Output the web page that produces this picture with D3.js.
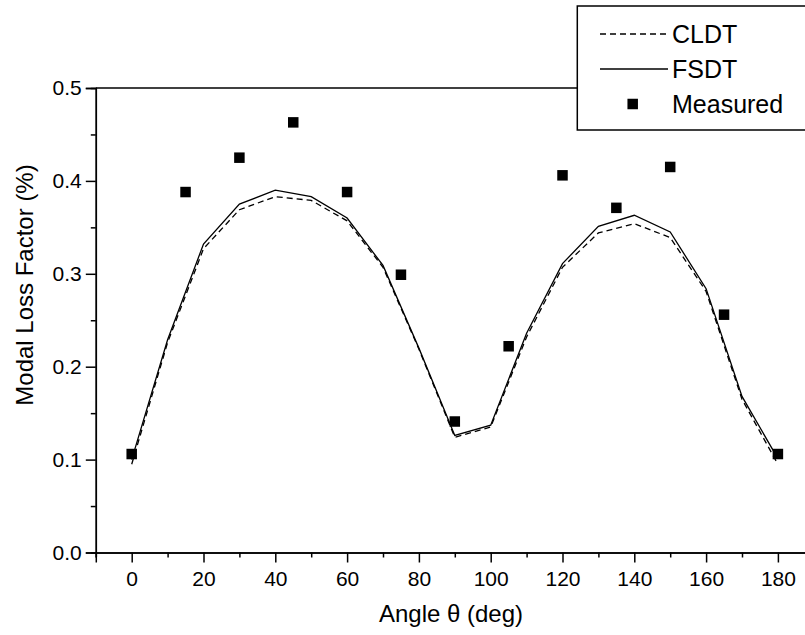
<!DOCTYPE html>
<html>
<head>
<meta charset="utf-8">
<script src="https://cdn.jsdelivr.net/npm/d3@7"></script>
<style>
    body { margin: 0; background: white; }
    text { font-family: Arial, "Liberation Sans", sans-serif; fill: black; }
</style>
</head>
<body>
<div id="canvas"></div>
<script>
"use strict"

/* data */
let angles = [0, 10, 20, 30, 40, 50, 60, 70, 80, 90, 100, 110, 120, 130, 140, 150, 160, 170, 180];
let cldt = [0.095, 0.226, 0.327, 0.369, 0.383, 0.379, 0.357, 0.307, 0.219, 0.124, 0.135, 0.232, 0.307, 0.344, 0.354, 0.339, 0.281, 0.165, 0.095];
let fsdt = [0.100, 0.229, 0.332, 0.375, 0.390, 0.383, 0.360, 0.309, 0.220, 0.126, 0.137, 0.236, 0.311, 0.351, 0.363, 0.345, 0.284, 0.168, 0.101];
let measuredAngles = [0, 15, 30, 45, 60, 75, 90, 105, 120, 135, 150, 165, 180];
let measured = [0.106, 0.388, 0.425, 0.463, 0.388, 0.299, 0.141, 0.222, 0.406, 0.371, 0.415, 0.256, 0.106];
let xTicks = [0, 20, 40, 60, 80, 100, 120, 140, 160, 180];
let yTicks = [0.0, 0.1, 0.2, 0.3, 0.4, 0.5];
let legendNames = ["CLDT", "FSDT", "Measured"];

/* drawing canvas */
let drawing = d3.select("#canvas")
    .append("svg")
    .attr("width", 805)
    .attr("height", 635);

/* scales - the x range runs past the right edge like the original */
let x = d3.scaleLinear().domain([-10, 190]).range([95.8, 813.8]);
let y = d3.scaleLinear().domain([0, 0.5]).range([552.5, 88]);

/* frame: top border line */
let topBorder = drawing.append("line")
    .attr("x1", x(-10))
    .attr("y1", y(0.5))
    .attr("x2", x(190))
    .attr("y2", y(0.5))
    .attr("stroke", "black")
    .attr("stroke-width", 1.5);

/* x axis */
let xAxis = drawing.append("g")
    .attr("transform", "translate(0," + y(0) + ")")
    .call(d3.axisBottom(x).tickValues(xTicks).tickSize(10).tickPadding(9).tickFormat(d3.format("d")));

let xMinor = drawing.append("g")
    .attr("transform", "translate(0," + y(0) + ")")
    .call(d3.axisBottom(x).tickValues(d3.range(-10, 191, 20)).tickSize(5).tickFormat(""));

/* y axis */
let yAxis = drawing.append("g")
    .attr("transform", "translate(" + x(-10) + ",0)")
    .call(d3.axisLeft(y).tickValues(yTicks).tickSize(10).tickPadding(4).tickFormat(d3.format(".1f")));

let yMinor = drawing.append("g")
    .attr("transform", "translate(" + x(-10) + ",0)")
    .call(d3.axisLeft(y).tickValues(d3.range(0.05, 0.5, 0.1)).tickSize(5).tickFormat(""));

drawing.selectAll(".domain").attr("stroke", "black").attr("stroke-width", 1.5);
drawing.selectAll(".tick line").attr("stroke", "black").attr("stroke-width", 1.5);
drawing.selectAll(".tick text").attr("font-size", 21).attr("font-family", "Arial, 'Liberation Sans', sans-serif");

/* axis titles */
let xTitle = drawing.append("text")
    .attr("x", 451)
    .attr("y", 622)
    .attr("text-anchor", "middle")
    .attr("font-size", 24)
    .text("Angle θ (deg)");

let yTitle = drawing.append("text")
    .attr("transform", "translate(33,285) rotate(-90)")
    .attr("text-anchor", "middle")
    .attr("font-size", 24)
    .text("Modal Loss Factor (%)");

/* curves */
let line = function(vals) {
    return d3.line()
        .x((d, i) => x(angles[i]))
        .y(d => y(d))(vals);
};

let cldtLine = drawing.append("path")
    .attr("d", line(cldt))
    .attr("fill", "none")
    .attr("stroke", "black")
    .attr("stroke-width", 1.3)
    .attr("stroke-dasharray", "6,4");

let fsdtLine = drawing.append("path")
    .attr("d", line(fsdt))
    .attr("fill", "none")
    .attr("stroke", "black")
    .attr("stroke-width", 1.3);

/* measured points */
let sq = 10.5;
let points = drawing.selectAll(".pt")
    .data(measured)
    .enter()
    .append("rect")
    .attr("class", "pt")
    .attr("x", (d, i) => x(measuredAngles[i]) - sq / 2)
    .attr("y", d => y(d) - sq / 2)
    .attr("width", sq)
    .attr("height", sq)
    .attr("fill", "black");

/* legend box */
let legendBox = drawing.append("rect")
    .attr("x", 577.3)
    .attr("y", 6)
    .attr("width", 260)
    .attr("height", 124)
    .attr("fill", "white")
    .attr("stroke", "black")
    .attr("stroke-width", 1.5);

let legendY = [34, 69, 104];

let legendDash = drawing.append("line")
    .attr("x1", 600).attr("y1", legendY[0])
    .attr("x2", 668).attr("y2", legendY[0])
    .attr("stroke", "black")
    .attr("stroke-width", 1.3)
    .attr("stroke-dasharray", "6,4");

let legendSolid = drawing.append("line")
    .attr("x1", 600).attr("y1", legendY[1])
    .attr("x2", 668).attr("y2", legendY[1])
    .attr("stroke", "black")
    .attr("stroke-width", 1.3);

let legendSquare = drawing.append("rect")
    .attr("x", 632.7 - sq / 2)
    .attr("y", legendY[2] - sq / 2)
    .attr("width", sq)
    .attr("height", sq)
    .attr("fill", "black");

let legendText = drawing.selectAll(".leg")
    .data(legendNames)
    .enter()
    .append("text")
    .attr("class", "leg")
    .attr("x", 672)
    .attr("y", (d, i) => legendY[i] + 8.5)
    .attr("font-size", 25)
    .text(d => d);
</script>
</body>
</html>
